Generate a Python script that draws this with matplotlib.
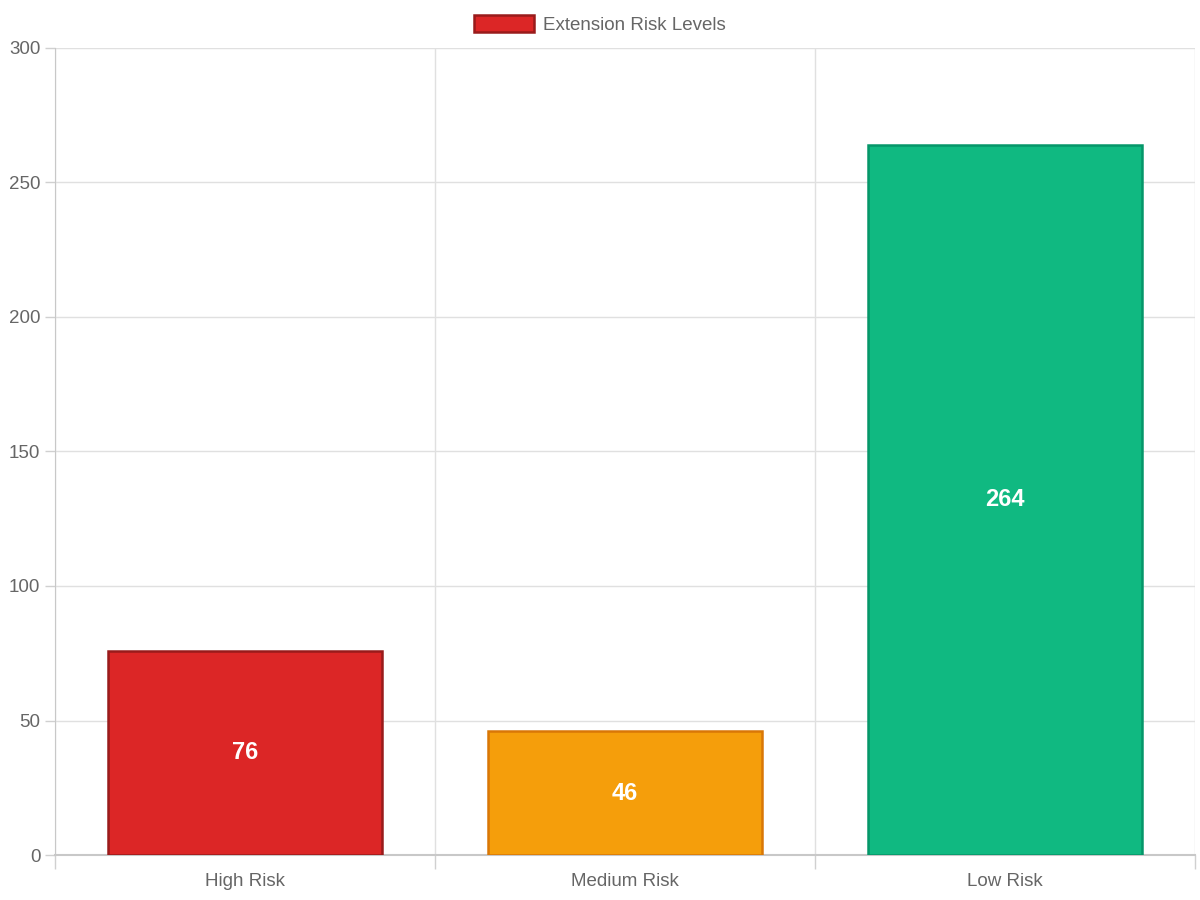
import matplotlib.pyplot as plt
import numpy as np

plt.rcParams['font.family'] = ['Liberation Sans', 'DejaVu Sans']

categories = ["High Risk", "Medium Risk", "Low Risk"]
values = [76, 46, 264]
fill_colors = ["#DC2626", "#F59E0B", "#10B981"]
edge_colors = ["#991B1B", "#D97706", "#059669"]
series_label = "Extension Risk Levels"
y_ticks = [0, 50, 100, 150, 200, 250, 300]

fig = plt.figure(figsize=(12, 9), dpi=100)
ax = fig.add_axes([55 / 1200, 45 / 900, 1140 / 1200, 807 / 900])

x = np.arange(len(categories))
bars = ax.bar(x, values, width=0.72, color=fill_colors, edgecolor=edge_colors,
              linewidth=1.8, zorder=3, label=series_label)

for xi, v in zip(x, values):
    ax.text(xi, v / 2, str(v), ha="center", va="center", color="white",
            fontsize=17, fontweight="bold", zorder=4)

ax.set_xlim(-0.5, len(categories) - 0.5)
ax.set_ylim(0, 300)
ax.set_yticks(y_ticks)
ax.set_xticks(x)
ax.set_xticklabels(categories)

# vertical grid at category boundaries
ax.set_xticks(np.arange(-0.5, len(categories)), minor=True)
ax.grid(True, which="minor", axis="x", color="#e0e0e0", linewidth=1, zorder=0)
ax.grid(True, which="major", axis="y", color="#e0e0e0", linewidth=1, zorder=0)
ax.tick_params(axis="x", which="major", length=0, pad=13, labelsize=13.5,
               labelcolor="#666666")
ax.tick_params(axis="x", which="minor", length=10, color="#d0d0d0", width=1)
ax.tick_params(axis="y", length=7, color="#d0d0d0", width=1, pad=3.5,
               labelsize=13.5, labelcolor="#666666")

for side in ["top", "right"]:
    ax.spines[side].set_visible(False)
ax.spines["left"].set_color("#c8c8c8")
ax.spines["bottom"].set_color("#c8c8c8")
ax.spines["bottom"].set_linewidth(1.5)

leg = fig.legend(handles=[bars[0]], labels=[series_label], loc="upper center",
                 bbox_to_anchor=(0.5, 1.0 + 2 / 900), frameon=False,
                 fontsize=13.5, handlelength=3.2, handleheight=1.0,
                 handletextpad=0.5, labelcolor="#666666")

fig.savefig("out.png", dpi=100)
